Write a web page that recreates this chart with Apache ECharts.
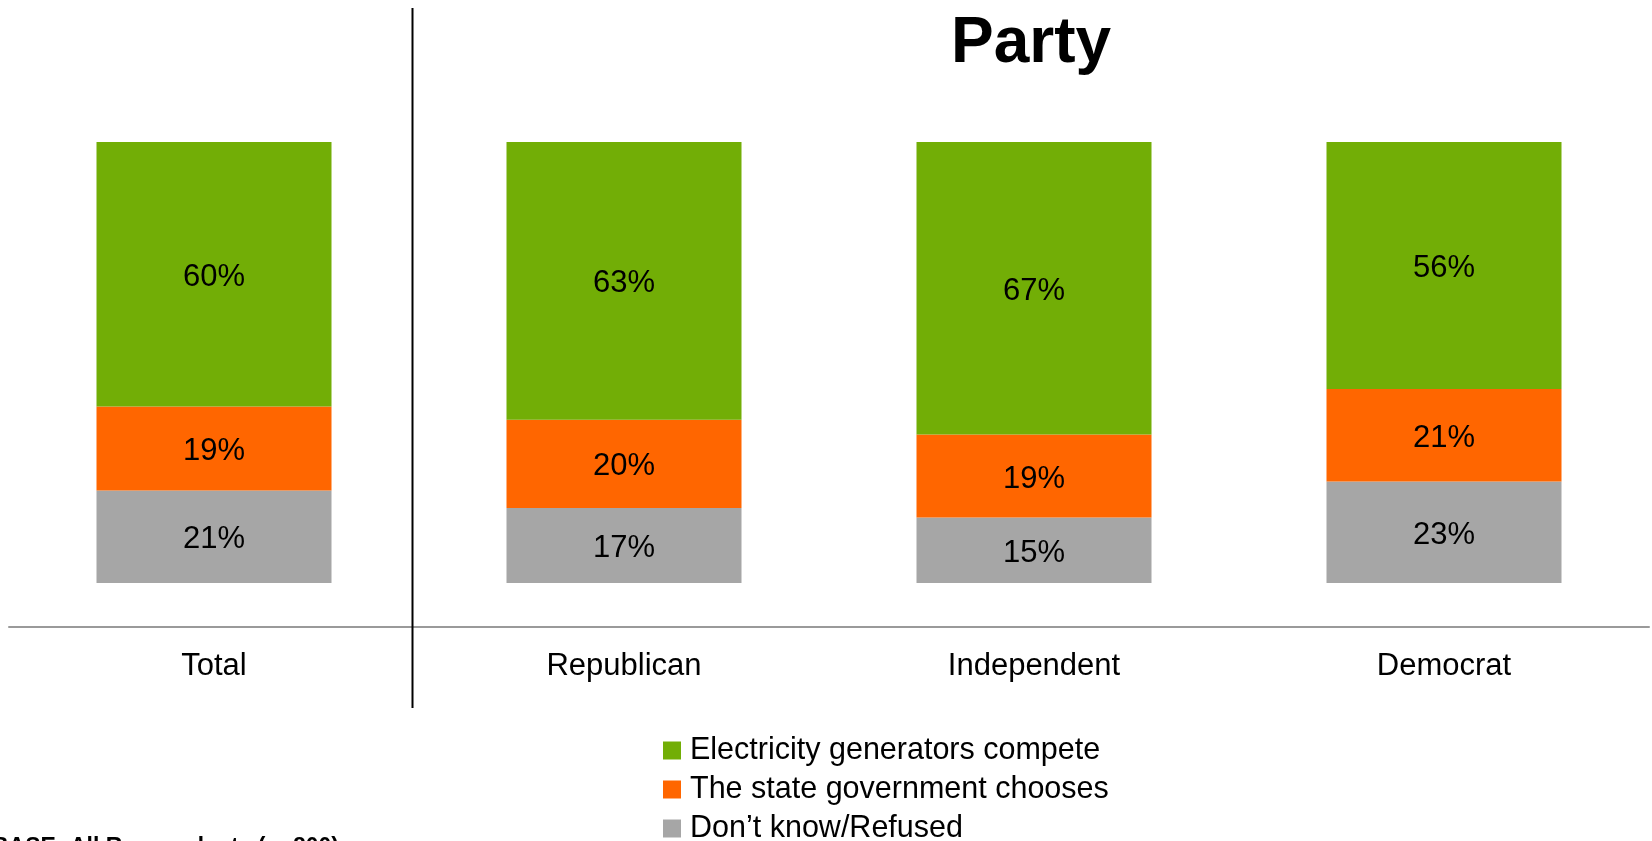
<!DOCTYPE html>
<html>
<head>
<meta charset="utf-8">
<script src="https://cdn.jsdelivr.net/npm/echarts@6/dist/echarts.min.js"></script>
<style>
html,body{margin:0;padding:0;background:#fff;}
#chart{width:1652px;height:841px;}
</style>
</head>
<body>
<div id="chart"></div>
<script>
const categories = ['Total', 'Republican', 'Independent', 'Democrat'];
const competeValues = [60, 63, 67, 56];
const stateValues = [19, 20, 19, 21];
const dontKnowValues = [21, 17, 15, 23];
const seriesNames = ['Electricity generators compete', 'The state government chooses', "Don\u2019t know/Refused"];
const titleText = 'Party';
const baseText = 'BASE: All Respondents (n=800)';

const FONT = '"Liberation Sans", Arial, sans-serif';
const colors = ['#72AE06', '#FF6600', '#A6A6A6'];

const totals = categories.map((c, i) => competeValues[i] + stateValues[i] + dontKnowValues[i]);
function toData(arr) {
  return arr.map((v, i) => ({ value: v / totals[i] * 100, raw: v }));
}

const stackOrder = [
  { name: seriesNames[2], vals: dontKnowValues, color: colors[2] },
  { name: seriesNames[1], vals: stateValues, color: colors[1] },
  { name: seriesNames[0], vals: competeValues, color: colors[0] }
];

const chart = echarts.init(document.getElementById('chart'), null, { renderer: 'canvas' });
chart.setOption({
  animation: false,
  backgroundColor: '#fff',
  textStyle: { fontFamily: FONT },
  grid: { left: 9, right: 3, top: 142, bottom: 258, containLabel: false },
  xAxis: {
    type: 'category',
    data: categories,
    offset: 44,
    axisLine: { show: true, onZero: false, lineStyle: { color: '#9a9a9a', width: 2 } },
    axisTick: { show: false },
    axisLabel: { color: '#000', fontSize: 31, fontFamily: FONT, margin: 24 }
  },
  yAxis: {
    type: 'value', min: 0, max: 100, show: false,
    splitLine: { show: false }
  },
  legend: {
    orient: 'vertical',
    left: 658,
    top: 730,
    height: 140,
    icon: 'rect',
    itemWidth: 18,
    itemHeight: 18,
    itemGap: 8,
    data: seriesNames,
    textStyle: { color: '#000', fontSize: 30.5, fontFamily: FONT, padding: [0, 0, 0, 4] }
  },
  series: stackOrder.map(s => ({
    name: s.name,
    type: 'bar',
    stack: 'all',
    barWidth: 235,
    data: toData(s.vals),
    itemStyle: { color: s.color },
    label: {
      show: true,
      position: 'inside',
      offset: [0, 3],
      color: '#000',
      fontSize: 31,
      fontFamily: FONT,
      formatter: p => p.data.raw + '%'
    }
  })),
  graphic: [
    {
      type: 'line',
      shape: { x1: 412.5, y1: 8, x2: 412.5, y2: 708 },
      style: { stroke: '#000', lineWidth: 2 },
      z: 10
    },
    {
      type: 'text',
      style: {
        text: titleText,
        x: 1031,
        y: 12,
        textAlign: 'center',
        fill: '#000',
        font: 'bold 64px ' + FONT
      }
    },
    {
      type: 'text',
      style: {
        text: baseText,
        x: -8,
        y: 836,
        fill: '#000',
        font: 'bold 23px ' + FONT
      }
    }
  ]
});
</script>
</body>
</html>
